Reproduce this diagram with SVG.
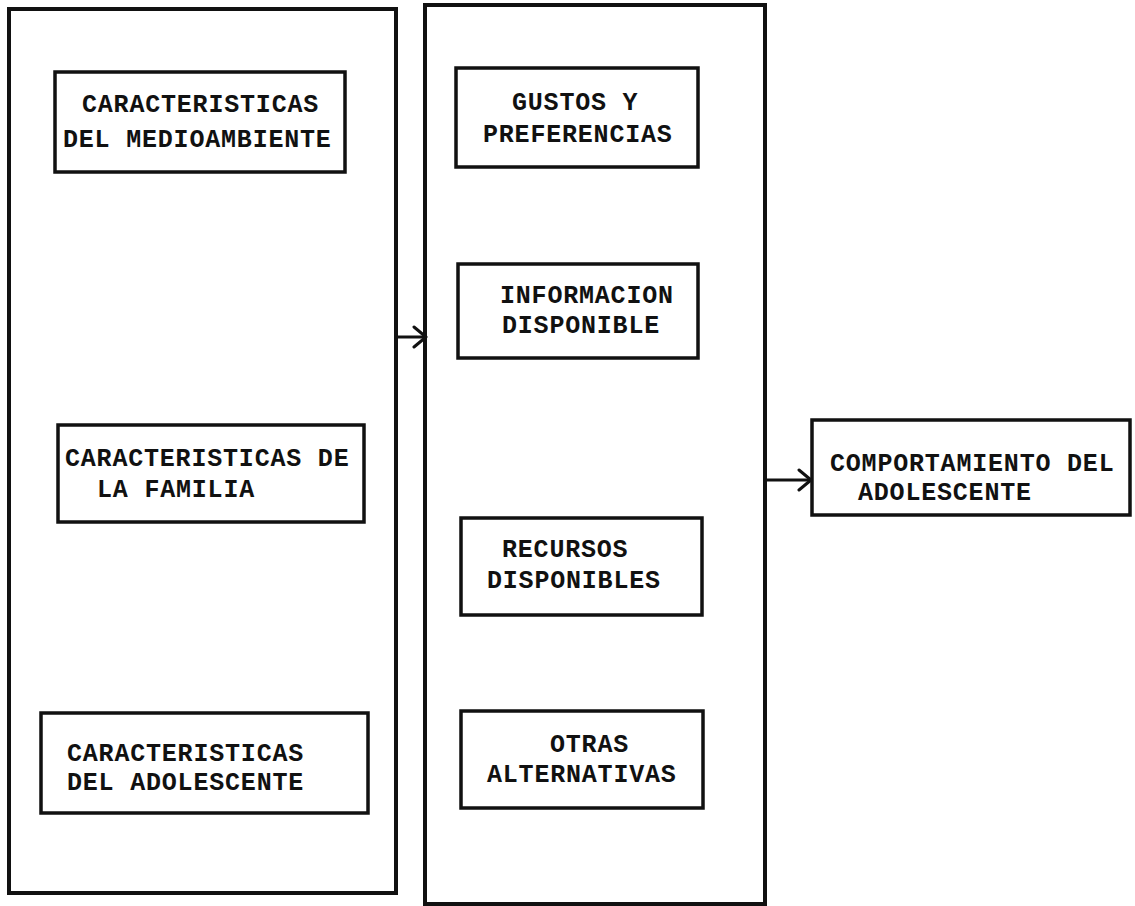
<svg xmlns="http://www.w3.org/2000/svg" width="1135" height="906" viewBox="0 0 1135 906">
<style>
.container{fill:none;stroke:#111;stroke-width:4}
.box{fill:#fff;stroke:#111;stroke-width:3.5}
.t{font-family:"Liberation Mono","Courier New",monospace;font-weight:bold;font-size:25px;letter-spacing:0.8px;fill:#111}
.conn{stroke:#111;stroke-width:3;fill:none}
</style>
<defs>
<marker id="arrow" markerUnits="userSpaceOnUse" markerWidth="20" markerHeight="24" refX="14" refY="12" orient="auto">
<path d="M2,2 L14,12 L2,22" fill="none" stroke="#111" stroke-width="3" stroke-linecap="round" stroke-linejoin="round"/>
</marker>
</defs>
<g id="container-left"><rect class="container" x="9" y="9" width="387" height="884"/></g>
<g id="container-middle"><rect class="container" x="425" y="5" width="340" height="899"/></g>
<g id="n-medioambiente">
<rect class="box" x="55" y="72" width="290" height="100"/>
<text class="t" x="82" y="112">CARACTERISTICAS</text>
<text class="t" x="63" y="147">DEL MEDIOAMBIENTE</text>
</g>
<g id="n-familia">
<rect class="box" x="58" y="425" width="306" height="97"/>
<text class="t" x="65" y="466">CARACTERISTICAS DE</text>
<text class="t" x="97" y="497">LA FAMILIA</text>
</g>
<g id="n-adolescente">
<rect class="box" x="41" y="713" width="327" height="100"/>
<text class="t" x="67" y="761">CARACTERISTICAS</text>
<text class="t" x="67" y="790">DEL ADOLESCENTE</text>
</g>
<g id="n-gustos">
<rect class="box" x="456" y="68" width="242" height="99"/>
<text class="t" x="512" y="110">GUSTOS Y</text>
<text class="t" x="483" y="142">PREFERENCIAS</text>
</g>
<g id="n-informacion">
<rect class="box" x="458" y="264" width="240" height="94"/>
<text class="t" x="500" y="303">INFORMACION</text>
<text class="t" x="502" y="333">DISPONIBLE</text>
</g>
<g id="n-recursos">
<rect class="box" x="461" y="518" width="241" height="97"/>
<text class="t" x="502" y="557">RECURSOS</text>
<text class="t" x="487" y="588">DISPONIBLES</text>
</g>
<g id="n-otras">
<rect class="box" x="461" y="711" width="242" height="97"/>
<text class="t" x="550" y="752">OTRAS</text>
<text class="t" x="487" y="782">ALTERNATIVAS</text>
</g>
<g id="n-comportamiento">
<rect class="box" x="812" y="420" width="318" height="95"/>
<text class="t" x="830" y="471">COMPORTAMIENTO DEL</text>
<text class="t" x="858" y="500">ADOLESCENTE</text>
</g>
<g id="connectors">
<line class="conn" x1="397" y1="337" x2="426" y2="337" marker-end="url(#arrow)"/>
<line class="conn" x1="767" y1="480" x2="811" y2="480" marker-end="url(#arrow)"/>
</g>
</svg>
